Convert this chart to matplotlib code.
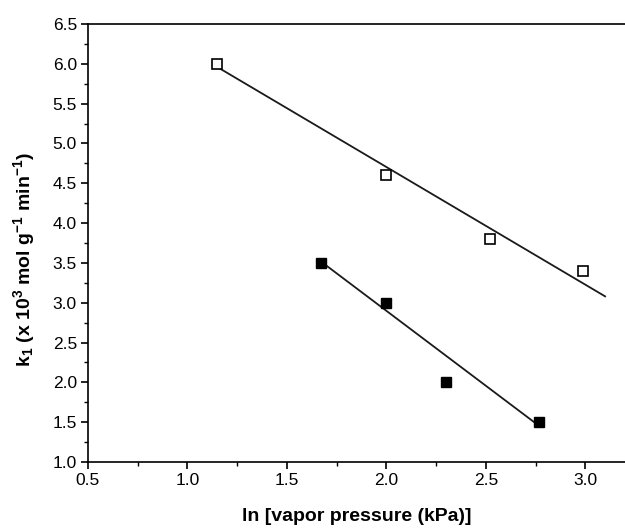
import numpy as np
import matplotlib
matplotlib.use("Agg")
import matplotlib.pyplot as plt
from matplotlib.ticker import MultipleLocator, FormatStrFormatter

plt.rcParams['font.family'] = ['Liberation Sans', 'DejaVu Sans']
plt.rcParams['mathtext.fontset'] = 'custom'
plt.rcParams['mathtext.rm'] = 'Liberation Sans:bold'
plt.rcParams['mathtext.it'] = 'Liberation Sans:bold'
plt.rcParams['mathtext.bf'] = 'Liberation Sans:bold'

# Data
x_open = [1.15, 2.00, 2.52, 2.99]
y_open = [6.00, 4.60, 3.80, 3.40]
x_filled = [1.67, 2.00, 2.30, 2.77]
y_filled = [3.50, 3.00, 2.00, 1.50]
# fitted line end points
open_line_x = [1.15, 3.10]
open_line_y = [5.96, 3.08]
filled_line_x = [1.67, 2.77]
filled_line_y = [3.52, 1.45]

fig = plt.figure(figsize=(6.25, 5.3), dpi=100)
ax = fig.add_axes([0.1408, 0.1283, 0.8592, 0.8264])

ax.plot(open_line_x, open_line_y, color='#1a1a1a', lw=1.3, zorder=2)
ax.plot(filled_line_x, filled_line_y, color='#1a1a1a', lw=1.3, zorder=2)
ax.plot(x_open, y_open, 's', ms=7, mfc='white', mec='black', mew=1.2, zorder=3)
ax.plot(x_filled, y_filled, 's', ms=7, mfc='black', mec='black', zorder=3)

ax.set_xlim(0.5, 3.2)
ax.set_ylim(1.0, 6.5)
ax.xaxis.set_major_locator(MultipleLocator(0.5))
ax.xaxis.set_minor_locator(MultipleLocator(0.25))
ax.yaxis.set_major_locator(MultipleLocator(0.5))
ax.yaxis.set_minor_locator(MultipleLocator(0.25))
ax.tick_params(which='major', direction='out', length=5, width=1.2, labelsize=12.5, pad=3)
ax.tick_params(which='minor', direction='out', length=3, width=1.0)
ax.xaxis.set_major_formatter(FormatStrFormatter('%.1f'))
ax.yaxis.set_major_formatter(FormatStrFormatter('%.1f'))
ax.spines['right'].set_visible(False)
for s in ['left', 'bottom', 'top']:
    ax.spines[s].set_linewidth(1.2)

ax.set_xlabel('ln [vapor pressure (kPa)]', fontsize=14, fontweight='bold', labelpad=14)
ax.set_ylabel(r'k$_{\mathregular{1}}$ (x 10$^{\mathregular{3}}$ mol g$^{\mathregular{-1}}$ min$^{\mathregular{-1}}$)',
              fontsize=14, fontweight='bold')
ax.yaxis.set_label_coords(-0.095, 0.461)

fig.savefig('out.png', dpi=100)
